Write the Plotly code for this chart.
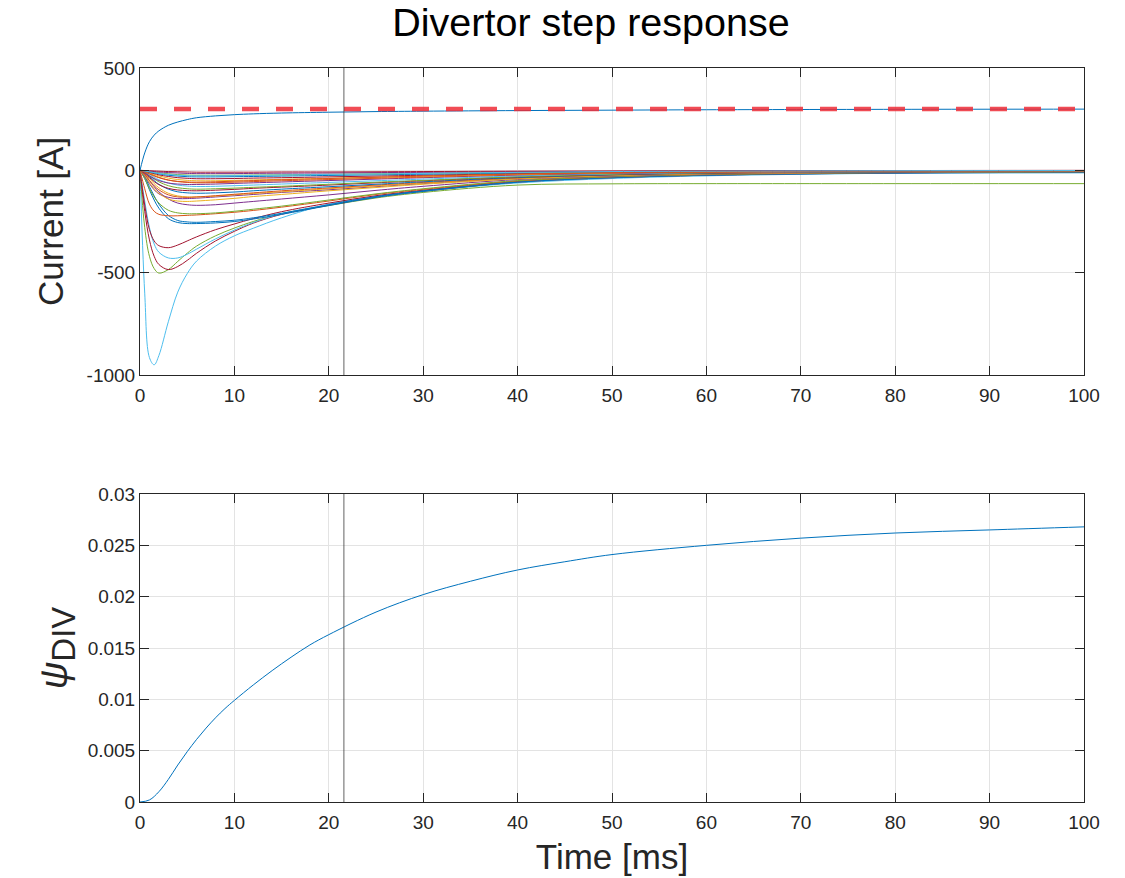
import plotly.graph_objects as go
from plotly.subplots import make_subplots

# ---------------- data ----------------
time_ms = [0, 0.5, 1, 1.5, 2, 3, 4, 5, 6, 8, 10, 12, 15, 20, 25, 30, 40, 50, 60, 80, 100]

i_div = [0, 85, 140, 172, 193, 220, 236, 248, 257, 266, 272, 276, 280, 284, 287, 289, 292, 294, 296, 298, 299]
i_ref = 300

i_c01 = [0, -600, -915, -950, -905, -740, -595, -505, -443, -370, -320, -283, -232, -165, -128, -102, -62, -40, -27, -14, -9]
i_c02 = [0, -280, -420, -480, -502, -485, -445, -405, -370, -320, -282, -250, -212, -172, -135, -108, -72, -66, -65, -65, -65]
i_c03 = [0, -200, -340, -420, -460, -485, -470, -440, -405, -345, -298, -258, -215, -170, -130, -102, -58, -36, -24, -13, -10]
i_c04 = [0, -150, -280, -360, -400, -428, -428, -410, -385, -335, -292, -255, -212, -168, -128, -100, -57, -35, -23, -14, -12]
i_c05 = [0, -170, -290, -345, -368, -378, -365, -345, -325, -290, -262, -236, -202, -160, -124, -97, -55, -34, -22, -12, -9]
i_c06 = [0, -40, -95, -145, -185, -236, -255, -260, -260, -257, -250, -238, -215, -172, -132, -103, -58, -36, -24, -13, -11]
i_c07 = [0, -30, -80, -125, -165, -220, -245, -252, -254, -250, -244, -232, -210, -168, -128, -100, -56, -35, -23, -12, -8]
i_c08 = [0, -90, -165, -200, -215, -222, -222, -220, -218, -212, -205, -196, -180, -150, -118, -93, -52, -32, -21, -11, -7]
i_c09 = [0, -40, -90, -130, -160, -195, -208, -212, -212, -208, -200, -190, -175, -145, -115, -90, -50, -31, -20, -10, -6]
i_c10 = [0, -20, -50, -80, -105, -140, -160, -168, -171, -168, -160, -152, -140, -120, -98, -78, -45, -28, -18, -9, -5]
i_c11 = [0, -30, -65, -95, -115, -132, -138, -138, -136, -130, -124, -118, -108, -95, -80, -65, -40, -25, -16, -8, -4]
i_c12 = [0, -25, -60, -90, -112, -140, -150, -152, -150, -144, -137, -128, -118, -100, -84, -68, -42, -26, -17, -9, -6]
i_c13 = [0, -15, -40, -65, -85, -112, -125, -130, -130, -126, -120, -113, -105, -90, -76, -62, -38, -24, -16, -8, -4]
i_c14 = [0, -20, -50, -75, -95, -120, -130, -132, -130, -124, -117, -110, -100, -86, -72, -59, -37, -23, -15, -8, -5]
i_c15 = [0, -10, -30, -50, -68, -92, -105, -110, -112, -110, -106, -100, -92, -80, -68, -56, -35, -22, -14, -8, -6]
i_c16 = [0, -15, -35, -55, -70, -88, -96, -99, -100, -97, -93, -88, -82, -72, -61, -51, -32, -20, -13, -7, -4]
i_c17 = [0, -10, -25, -42, -56, -75, -85, -90, -92, -90, -87, -83, -78, -68, -58, -49, -31, -19, -12, -6, -3]
i_c18 = [0, -8, -20, -34, -46, -62, -72, -77, -79, -78, -75, -72, -67, -59, -51, -43, -27, -17, -11, -6, -4]
i_c19 = [0, -12, -28, -40, -50, -62, -67, -69, -69, -67, -64, -61, -57, -50, -43, -36, -23, -15, -10, -5, -2]
i_c20 = [0, -6, -15, -25, -34, -47, -55, -59, -61, -60, -58, -55, -51, -45, -39, -33, -21, -13, -9, -5, -3]
i_c21 = [0, -5, -12, -20, -27, -38, -45, -49, -51, -51, -49, -47, -44, -39, -34, -29, -19, -12, -8, -4, -2]
i_c22 = [0, -4, -10, -16, -22, -30, -36, -39, -41, -41, -40, -38, -36, -32, -28, -24, -16, -10, -7, -3, -1]
i_c23 = [0, -3, -8, -13, -17, -24, -28, -31, -32, -32, -31, -30, -28, -25, -22, -19, -13, -8, -5, -3, -1]
i_c24 = [0, -2, -5, -9, -12, -17, -21, -23, -24, -24, -24, -23, -22, -19, -17, -15, -10, -7, -4, -2, -1]
i_c25 = [0, -2, -4, -6, -8, -11, -13, -15, -16, -16, -16, -15, -14, -13, -11, -10, -7, -5, -3, -2, -1]
i_c26 = [0, -1, -2, -3, -4, -6, -7, -8, -9, -9, -9, -9, -8, -8, -7, -6, -4, -3, -2, -1, 0]
i_c27 = [0, -8, -18, -28, -36, -48, -54, -57, -58, -56, -53, -50, -46, -40, -34, -28, -18, -11, -7, -4, -2]
i_c28 = [0, -3, -7, -11, -15, -20, -24, -26, -27, -27, -26, -25, -23, -20, -18, -15, -10, -6, -4, -2, -1]

psi_time_ms = [0, 1, 2, 3, 4, 5, 6, 7, 8, 9, 10, 12, 14, 16, 18, 20, 25, 30, 35, 40, 45, 50, 60, 70, 80, 90, 100]
psi_div = [0, 0.0002, 0.0010, 0.0022, 0.0036, 0.0049, 0.0061, 0.0072, 0.0082, 0.0091, 0.0099,
           0.0114, 0.0128, 0.0141, 0.0153, 0.0163, 0.0185, 0.0202, 0.0215, 0.0226, 0.0234, 0.0241,
           0.0250, 0.0257, 0.0262, 0.0265, 0.0268]

marker_time_ms = 21.6

x_ticks = [0, 10, 20, 30, 40, 50, 60, 70, 80, 90, 100]
y1_ticks = [-1000, -500, 0, 500]
y1_ticktext = ["-1000", "-500", "0", "500"]
y2_ticks = [0, 0.005, 0.01, 0.015, 0.02, 0.025, 0.03]
y2_ticktext = ["0", "0.005", "0.01", "0.015", "0.02", "0.025", "0.03"]

coil_currents = [i_c01, i_c02, i_c03, i_c04, i_c05, i_c06, i_c07, i_c08, i_c09, i_c10,
                 i_c11, i_c12, i_c13, i_c14, i_c15, i_c16, i_c17, i_c18, i_c19, i_c20,
                 i_c21, i_c22, i_c23, i_c24, i_c25, i_c26, i_c27, i_c28]

# ---------------- styles ----------------
BLUE, ORANGE, YELLOW, PURPLE, GREEN, CYAN, DARKRED = (
    "#0072BD", "#D95319", "#EDB120", "#7E2F8E", "#77AC30", "#4DBEEE", "#A2142F")
coil_colors = [CYAN, GREEN, DARKRED, CYAN, DARKRED, BLUE, BLUE, ORANGE, GREEN, PURPLE,
               PURPLE, YELLOW, YELLOW, ORANGE, BLUE, DARKRED, GREEN, CYAN, PURPLE, ORANGE,
               YELLOW, DARKRED, BLUE, GREEN, PURPLE, DARKRED, ORANGE, CYAN]

W, H = 1125, 878
L, R, T, B = 140, 41, 68, 76
ph = H - T - B
top_dom = [(802 - 375) / ph, 1.0]
bot_dom = [0.0, (802 - 494) / ph]

FONT = "Liberation Sans, Arial, Helvetica, sans-serif"
AX = "#262626"
GRID = "#e3e3e3"
SMOOTH = 1.0

fig = make_subplots(rows=2, cols=1)

for vals, col in zip(coil_currents, coil_colors):
    fig.add_trace(go.Scatter(x=time_ms, y=vals, mode="lines",
                             line=dict(color=col, width=1, shape="spline", smoothing=SMOOTH),
                             showlegend=False, hoverinfo="skip"), row=1, col=1)

fig.add_trace(go.Scatter(x=time_ms, y=i_div, mode="lines",
                         line=dict(color=BLUE, width=1, shape="spline", smoothing=SMOOTH),
                         showlegend=False), row=1, col=1)

fig.add_trace(go.Scatter(x=[0, 100], y=[i_ref, i_ref], mode="lines",
                         line=dict(color="rgba(238,45,55,0.85)", width=4.5, dash="17px,17px"),
                         showlegend=False), row=1, col=1)

fig.add_trace(go.Scatter(x=psi_time_ms, y=psi_div, mode="lines",
                         line=dict(color=BLUE, width=1, shape="spline", smoothing=SMOOTH),
                         showlegend=False), row=2, col=1)

for xr, yr in (("x", "y domain"), ("x2", "y2 domain")):
    fig.add_shape(type="line", xref=xr, yref=yr, x0=marker_time_ms, x1=marker_time_ms, y0=0, y1=1,
                  line=dict(color="rgba(60,60,60,0.8)", width=1))

axis_common = dict(showline=True, linecolor=AX, linewidth=1, mirror="ticks",
                   ticks="inside", ticklen=9, tickcolor=AX, tickwidth=1,
                   showgrid=True, gridcolor=GRID, gridwidth=1, zeroline=False,
                   tickfont=dict(family=FONT, size=19, color=AX))

fig.update_xaxes(**axis_common, range=[0, 100], tickvals=x_ticks, ticklabelstandoff=3)
fig.update_layout(
    xaxis=dict(domain=[0, 1]),
    xaxis2=dict(domain=[0, 1],
                title=dict(text="Time [ms]", font=dict(family=FONT, size=35, color=AX), standoff=12)),
    yaxis=dict(**axis_common, domain=top_dom, range=[-1000, 500], tickvals=y1_ticks, ticktext=y1_ticktext,
               title=dict(text="Current [A]", font=dict(family=FONT, size=35, color=AX), standoff=12)),
    yaxis2=dict(**axis_common, domain=bot_dom, range=[0, 0.03], tickvals=y2_ticks, ticktext=y2_ticktext,
                title=dict(text="<i>ψ</i><sub><span style='font-size:33px'>DIV</span></sub>",
                           font=dict(family=FONT, size=38, color=AX), standoff=8)),
    width=W, height=H,
    margin=dict(l=L, r=R, t=T, b=B, autoexpand=False),
    paper_bgcolor="white", plot_bgcolor="white",
    title=dict(text="Divertor step response", x=591 / W, xanchor="center", xref="container",
               y=1 - 22 / H, yanchor="middle", yref="container",
               font=dict(family=FONT, size=39.5, color="#000000")),
    showlegend=False,
)

fig.write_html("out.html")
